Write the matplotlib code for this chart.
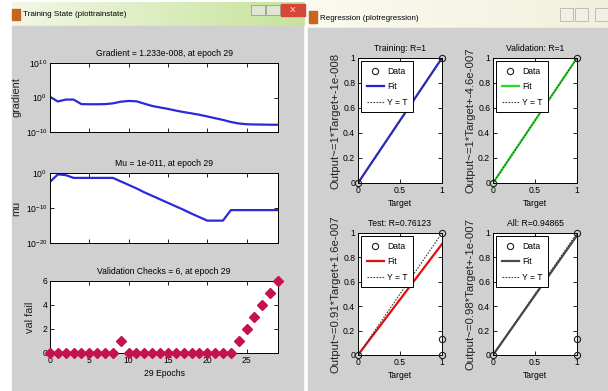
import numpy as np
import matplotlib.pyplot as plt
from matplotlib.patches import Rectangle
from matplotlib.colors import LinearSegmentedColormap
from matplotlib.ticker import NullLocator

plt.rcParams['font.family'] = ['Liberation Sans Narrow', 'Liberation Sans', 'DejaVu Sans']
plt.rcParams['mathtext.default'] = 'regular'

# ---- data ----
epochs = np.arange(30)
gradient = [1.6, 0.07, 0.25, 0.25, 0.012, 0.011, 0.011, 0.012, 0.02, 0.06,
            0.1, 0.08, 0.016, 3.5e-3, 1.3e-3, 5e-4, 1.6e-4, 6e-5, 2.5e-5, 1e-5,
            3.2e-6, 1e-6, 3.2e-7, 8e-8, 3e-8, 1.8e-8, 1.5e-8, 1.4e-8, 1.3e-8, 1.233e-8]
mu = [3e-3, 0.4, 0.25, 0.04, 0.04, 0.04, 0.04, 0.04, 0.04, 4e-3,
      4e-4, 4e-5, 3e-6, 3e-7, 3e-8, 3e-9, 3e-10, 3e-11, 2.5e-12, 2.5e-13,
      2.5e-14, 2.5e-14, 2.5e-14, 2.5e-11, 2.5e-11, 2.5e-11, 2.5e-11, 2.5e-11, 2.5e-11, 2.5e-11]
val_fail = [0, 0, 0, 0, 0, 0, 0, 0, 0, 1,
            0, 0, 0, 0, 0, 0, 0, 0, 0, 0,
            0, 0, 0, 0, 1, 2, 3, 4, 5, 6]

reg_titles = ['Training: R=1', 'Validation: R=1', 'Test: R=0.76123', 'All: R=0.94865']
reg_ylabels = ['Output~=1*Target+-1e-008', 'Output~=1*Target+-4.6e-007',
               'Output~=0.91*Target+1.6e-007', 'Output~=0.98*Target+-1e-007']
reg_targets = [[0, 1], [0, 1], [0, 1, 1, 1], [0, 1, 1, 1]]
reg_outputs = [[0, 1], [0, 1], [0, 1, 0.13, 0], [0, 1, 0.13, 0]]
reg_slope = [1, 1, 0.91, 0.98]
reg_intercept = [-1e-8, -4.6e-7, 1.6e-7, -1e-7]
reg_colors = ['#1f1fe0', '#22dd22', '#e01010', '#4a4a4a']

FS = 6.2      # horizontal text
FS_V = 7.8    # rotated labels (the screenshot is squeezed sideways only)

W, H = 608, 391
fig = plt.figure(figsize=(W / 100, H / 100), dpi=100)
fig.patch.set_facecolor('white')


def px_axes(x0, y0, x1, y1):
    return fig.add_axes([x0 / W, 1 - y1 / H, (x1 - x0) / W, (y1 - y0) / H])


def matlab_ticks(ax):
    ax.tick_params(direction='in', length=3, width=0.6, top=True, right=True,
                   labelsize=FS, pad=2)
    for s in ax.spines.values():
        s.set_linewidth(0.7)


# ---- window chrome (pixel coordinates) ----
bg = fig.add_axes([0, 0, 1, 1], zorder=-10)
bg.axis('off')
ramp = np.linspace(0, 1, 200).reshape(1, -1)
bg.imshow(ramp, extent=(12, 305, 26, 2), aspect='auto',
          cmap=LinearSegmentedColormap.from_list('l', ['#f2f7e6', '#c6e39a']))
bg.imshow(ramp, extent=(307, 608, 28, 0), aspect='auto',
          cmap=LinearSegmentedColormap.from_list('r', ['#fbfaf2', '#f2f0dc']))
bg.add_patch(Rectangle((12, 26), 291, 365, color='#d0d0d0'))
bg.add_patch(Rectangle((308, 28), 300, 363, color='#d0d0d0'))
bg.add_patch(Rectangle((12, 9), 8, 11, color='#c8641e'))
bg.add_patch(Rectangle((309, 11), 8, 12, color='#c8641e'))
for x in (251, 266):
    bg.add_patch(Rectangle((x, 5), 14, 10, fc='#dfe6d2', ec='#9aa090', lw=0.6))
bg.add_patch(Rectangle((281, 4), 24, 12, color='#d8463a'))
bg.text(293, 10, 'X', color='white', fontsize=6, ha='center', va='center')
for x in (560, 575, 595):
    bg.add_patch(Rectangle((x, 8), 13, 13, fc='#f1f0e6', ec='#b4b4b4', lw=0.6))
bg.text(23, 15, 'Training State (plottrainstate)', fontsize=5.8, va='center')
bg.text(320, 18, 'Regression (plotregression)', fontsize=5.8, va='center')
bg.set_xlim(0, W)
bg.set_ylim(H, 0)

# ---- training state ----
line_blue = '#2a2ad8'
ax1 = px_axes(50, 63, 278, 132)
ax1.semilogy(epochs, gradient, color=line_blue, lw=1.6)
ax1.set_ylim(1e-10, 1e10)
ax1.set_yticks([1e-10, 1, 1e10], ['$10^{-10}$', '$10^{0}$', '$10^{10}$'])
ax1.set_title('Gradient = 1.233e-008, at epoch 29', fontsize=FS, pad=5)
ax1.set_ylabel('gradient', fontsize=FS_V, labelpad=3, color='#222222')

ax2 = px_axes(50, 173, 278, 243)
ax2.semilogy(epochs, mu, color=line_blue, lw=1.6)
ax2.set_ylim(1e-20, 1)
ax2.set_yticks([1e-20, 1e-10, 1], ['$10^{-20}$', '$10^{-10}$', '$10^{0}$'])
ax2.set_title('Mu = 1e-011, at epoch 29', fontsize=FS, pad=5)
ax2.set_ylabel('mu', fontsize=FS_V, labelpad=3, color='#222222')

ax3 = px_axes(50, 281, 278, 353)
ax3.plot(epochs, val_fail, 'D', color='#c4124e', ms=4.6, clip_on=False, zorder=5)
ax3.set_ylim(0, 6)
ax3.set_yticks([0, 2, 4, 6])
ax3.set_title('Validation Checks = 6, at epoch 29', fontsize=FS, pad=5)
ax3.set_ylabel('val fail', fontsize=FS_V, labelpad=5, color='#222222')
ax3.set_xlabel('29 Epochs', fontsize=FS, labelpad=3)

for ax in (ax1, ax2, ax3):
    ax.set_xlim(0, 29)
    ax.set_xticks([0, 5, 10, 15, 20, 25])
    ax.yaxis.set_minor_locator(NullLocator())
    matlab_ticks(ax)
for ax in (ax1, ax2):
    ax.tick_params(labelbottom=False)

# ---- regression ----
boxes = [(358, 58, 442, 183), (493, 58, 577, 183),
         (358, 233, 442, 355), (493, 233, 577, 355)]
for i, box in enumerate(boxes):
    ax = px_axes(*box)
    ax.plot(reg_targets[i], reg_outputs[i], 'o', mfc='none', mec='#202020',
            ms=4.5, mew=0.8, clip_on=False, zorder=5, label='Data')
    xs = np.array([0, 1])
    ax.plot(xs, reg_slope[i] * xs + reg_intercept[i], color=reg_colors[i],
            lw=1.6, label='Fit')
    ax.plot(xs, xs, ls=(0, (1.5, 1.2)), color='#404040', lw=0.8, label='Y = T')
    ax.set_xlim(0, 1)
    ax.set_ylim(0, 1)
    ax.set_xticks([0, 0.5, 1], ['0', '0.5', '1'])
    ax.set_yticks([0, 0.2, 0.4, 0.6, 0.8, 1], ['0', '0.2', '0.4', '0.6', '0.8', '1'])
    ax.set_title(reg_titles[i], fontsize=FS, pad=5)
    ax.set_xlabel('Target', fontsize=FS, labelpad=3)
    ax.set_ylabel(reg_ylabels[i], fontsize=8.2, labelpad=2, color='#222222')
    matlab_ticks(ax)
    leg = ax.legend(loc='upper left', fontsize=FS, numpoints=1, handlelength=2.0,
                    fancybox=False, edgecolor='black', framealpha=1,
                    borderpad=0.6, labelspacing=0.75, handletextpad=0.4,
                    borderaxespad=0.4)
    leg.get_frame().set_linewidth(0.7)

fig.savefig('out.png', dpi=100)
